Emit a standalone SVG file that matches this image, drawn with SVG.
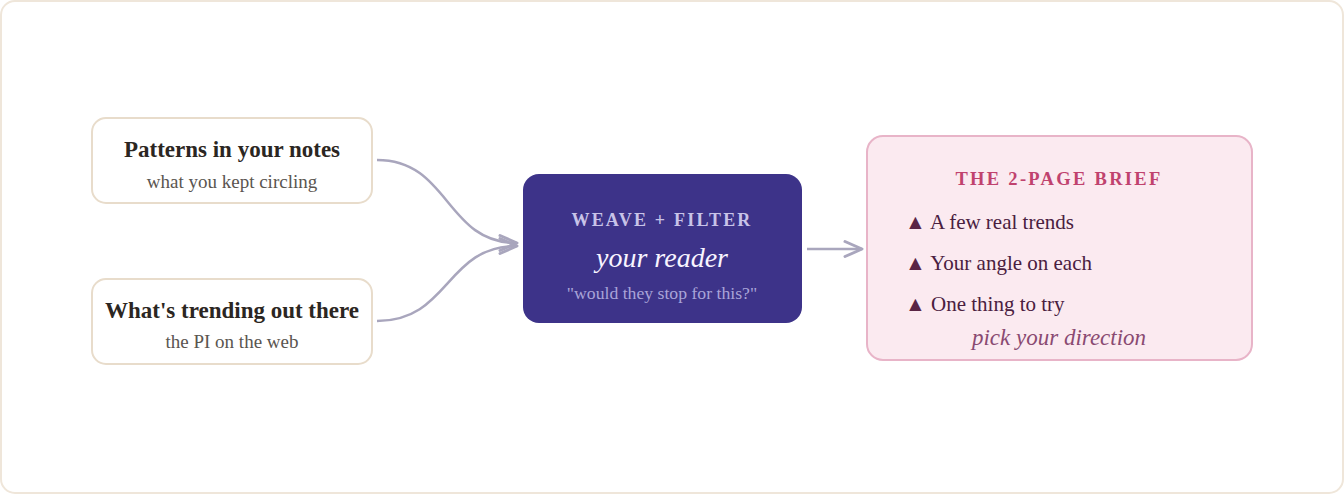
<svg xmlns="http://www.w3.org/2000/svg" width="1344" height="494" viewBox="0 0 1344 494">
<defs>
<style>
.serif{font-family:"Liberation Serif","Times New Roman",serif;}
.box{fill:#ffffff;stroke:#e8dccb;stroke-width:2;}
.t1{font-size:23px;font-weight:bold;fill:#2b2622;text-anchor:middle;}
.t2{font-size:19px;fill:#5a5550;text-anchor:middle;}
.conn{fill:none;stroke:#a9a6bd;stroke-width:2.5;}
.bul{font-size:21px;fill:#4a2040;}
.tri{fill:#5a2545;}
</style>
<marker id="arr" viewBox="0 0 24 20" refX="21" refY="10" markerWidth="24" markerHeight="20" markerUnits="userSpaceOnUse" orient="auto">
<path d="M4,2.5 L21,10 L4,17.5" fill="none" stroke="#a9a6bd" stroke-width="3" stroke-linecap="round" stroke-linejoin="round"/>
</marker>
</defs>
<rect x="1" y="1" width="1342" height="492" rx="14" fill="#ffffff" stroke="#efe6da" stroke-width="2"/>
<g id="connectors">
<path class="conn" d="M377,160 C450,160 445,243 517,243" marker-end="url(#arr)"/>
<path class="conn" d="M377,321 C450,321 445,246 517,246" marker-end="url(#arr)"/>
<path class="conn" d="M807,249 L862,249" marker-end="url(#arr)"/>
</g>
<g id="node-patterns" class="serif">
<rect class="box" x="92" y="118" width="280" height="85" rx="14"/>
<text class="t1" x="232" y="157">Patterns in your notes</text>
<text class="t2" x="232" y="188">what you kept circling</text>
</g>
<g id="node-trending" class="serif">
<rect class="box" x="92" y="279" width="280" height="85" rx="14"/>
<text class="t1" x="232" y="318">What's trending out there</text>
<text class="t2" x="232" y="348">the PI on the web</text>
</g>
<g id="node-weave" class="serif">
<rect x="523" y="174" width="279" height="149" rx="16" fill="#3d3389"/>
<text x="662" y="226" font-size="18" font-weight="bold" letter-spacing="2.2" fill="#c8c3e8" text-anchor="middle">WEAVE + FILTER</text>
<text x="662" y="267" font-size="28" font-style="italic" fill="#f8f4ff" text-anchor="middle">your reader</text>
<text x="662" y="299" font-size="17.7" fill="#a9a4d8" text-anchor="middle">"would they stop for this?"</text>
</g>
<g id="node-brief" class="serif">
<rect x="867" y="136" width="385" height="224" rx="16" fill="#fbeaf0" stroke="#e8b4c8" stroke-width="2"/>
<text x="1059" y="185" font-size="18.5" font-weight="bold" letter-spacing="2.3" fill="#c0426e" text-anchor="middle">THE 2-PAGE BRIEF</text>
<text class="bul" x="905" y="229"><tspan class="tri">▲</tspan> A few real trends</text>
<text class="bul" x="905" y="270"><tspan class="tri">▲</tspan> Your angle on each</text>
<text class="bul" x="905" y="311"><tspan class="tri">▲</tspan> One thing to try</text>
<text x="1059" y="345" font-size="23" font-style="italic" fill="#8a4a72" text-anchor="middle">pick your direction</text>
</g>
</svg>
